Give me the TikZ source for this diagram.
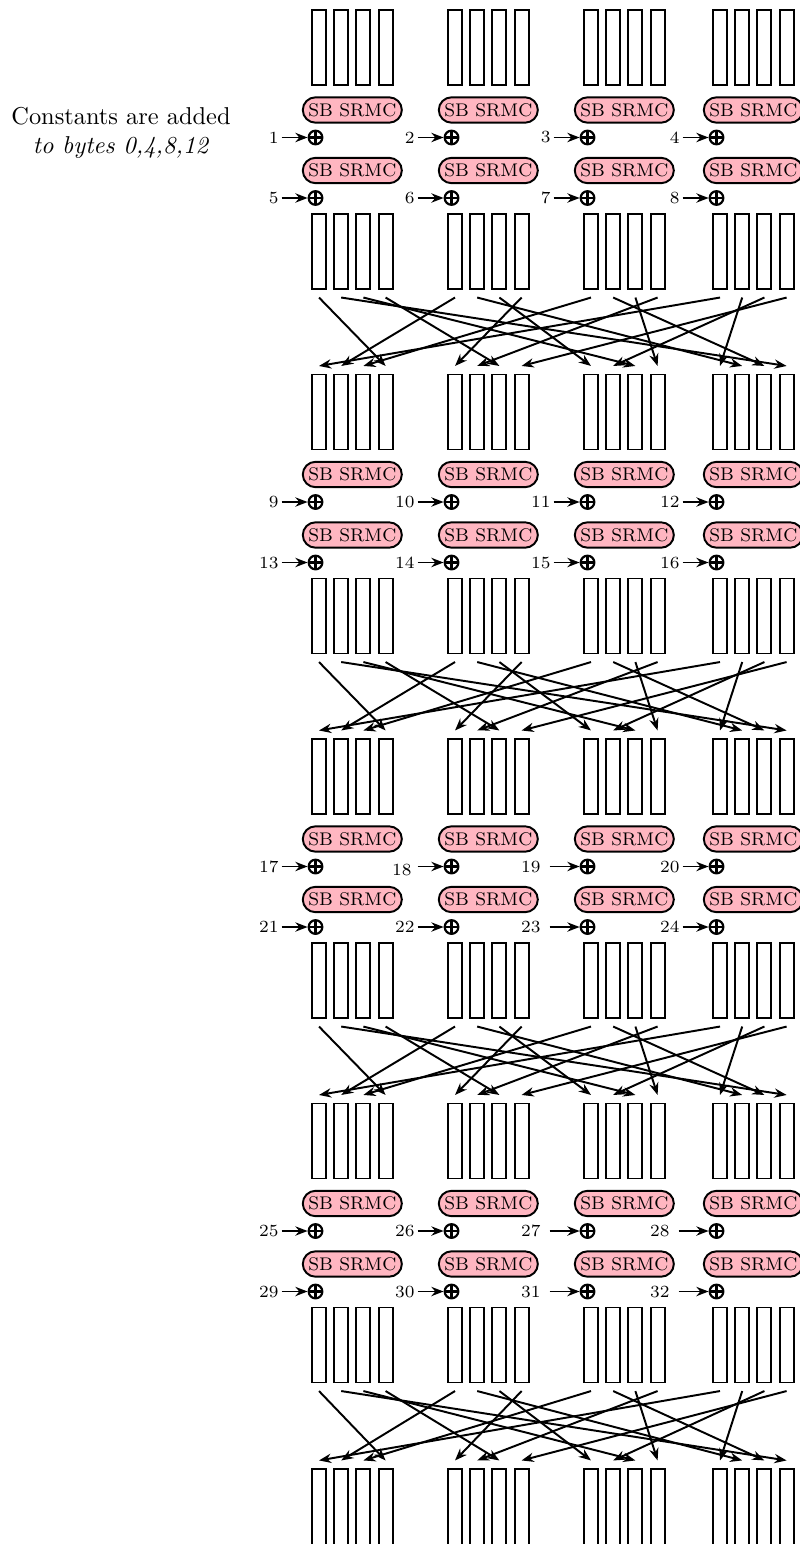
\documentclass[tikz,border=0pt]{standalone}
\usetikzlibrary{arrows.meta}
\definecolor{sbpink}{HTML}{FFB6C1}
\begin{document}
\begin{tikzpicture}[x=0.41pt,y=-0.41pt,
  cell/.style={draw,thick,inner sep=0pt,minimum width=5.74pt,minimum height=30.75pt},
  rnd/.style={draw,thick,fill=sbpink,rounded corners=5.2pt,minimum width=40.6pt,minimum height=10.4pt,inner sep=0pt,font=\fontsize{7.5}{9}\selectfont},
  xorn/.style={draw,line width=0.9pt,circle,inner sep=0pt,minimum size=5.6pt,
    path picture={\draw[line width=0.9pt] (path picture bounding box.north) -- (path picture bounding box.south)
      (path picture bounding box.west) -- (path picture bounding box.east);}},
  cnum/.style={font=\scriptsize,anchor=east,inner sep=1pt},
  carr/.style={thick,-{Stealth[length=5pt,width=3.8pt]}},
  perm/.style={thick,-{Stealth[length=5pt,width=3.8pt]}},
]
\useasboundingbox (0,0) rectangle (799,1544);
\node[align=center] (note) at (121,133) {Constants are added\\\textit{to bytes 0,4,8,12}};
% state columns at the top of each group
\foreach \g in {0,...,3} {
  \pgfmathsetmacro\oy{364.5*\g}
  \foreach \b/\L in {0/311,1/447,2/583,3/712} {
    \foreach \i in {0,...,3} {
      \pgfmathtruncatemacro\k{4*\b+\i}
      \node[cell] (A-\g-\k) at ({\L+8+22.2*\i},{\oy+47.5}) {};
    }
  }
}
% final state columns (running off the page)
\foreach \b/\L in {0/311,1/447,2/583,3/712} {
  \foreach \i in {0,...,3} {
    \pgfmathtruncatemacro\k{4*\b+\i}
    \node[cell,anchor=north,minimum height=40pt] (A-4-\k) at ({\L+8+22.2*\i},{1468}) {};
  }
}
% two AES rounds per state, constants, and output columns
\foreach \g in {0,...,3} {
  \pgfmathsetmacro\oy{364.5*\g}
  \foreach \b/\L in {0/311,1/447,2/583,3/712} {
    \node[rnd] (E-\g-0-\b) at ({\L+41.3},{\oy+110}) {SB SRMC};
    \node[rnd] (E-\g-1-\b) at ({\L+41.3},{\oy+170.5}) {SB SRMC};
    \foreach \r/\yy in {0/137.5,1/198} {
      \pgfmathtruncatemacro\n{8*\g+4*\r+\b+1}
      \pgfmathsetmacro\ext{((\n==19)||(\n==23)||(\n==27)||(\n==31)||(\n==28)||(\n==32))?4:0}
      \pgfmathsetmacro\lg{((\n==19)||(\n==23)||(\n==27)||(\n==31)||(\n==28)||(\n==32))?6:0}
      \pgfmathsetmacro\dx{(\n==18)?-3:0}
      \pgfmathsetmacro\dy{(\n==18)?3:0}
      \node[xorn] (X-\g-\r-\b) at ({\L+4.5},{\oy+\yy}) {};
      \coordinate (S-\n) at ({\L+4.5-34-\ext},{\oy+\yy});
      \draw[carr] (S-\n) -- (X-\g-\r-\b.west);
      \node[cnum] (N-\n) at ({\L+4.5-34-\ext-\lg+\dx},{\oy+\yy+\dy}) {\n};
    }
    \foreach \i in {0,...,3} {
      \pgfmathtruncatemacro\k{4*\b+\i}
      \node[cell] (B-\g-\k) at ({\L+8+22.2*\i},{\oy+251.5}) {};
    }
  }
}
% column permutation between groups
\foreach \g in {0,...,3} {
  \pgfmathtruncatemacro\h{\g+1}
  \foreach \s/\d in {0/3,1/15,2/10,3/6,4/1,5/13,6/8,7/4,8/2,9/14,10/11,11/5,12/0,13/12,14/9,15/7} {
    \draw[perm] ([yshift=-3.1pt]B-\g-\s.south) -- ([yshift=3.1pt]A-\h-\d.north);
  }
}
\end{tikzpicture}
\end{document}
